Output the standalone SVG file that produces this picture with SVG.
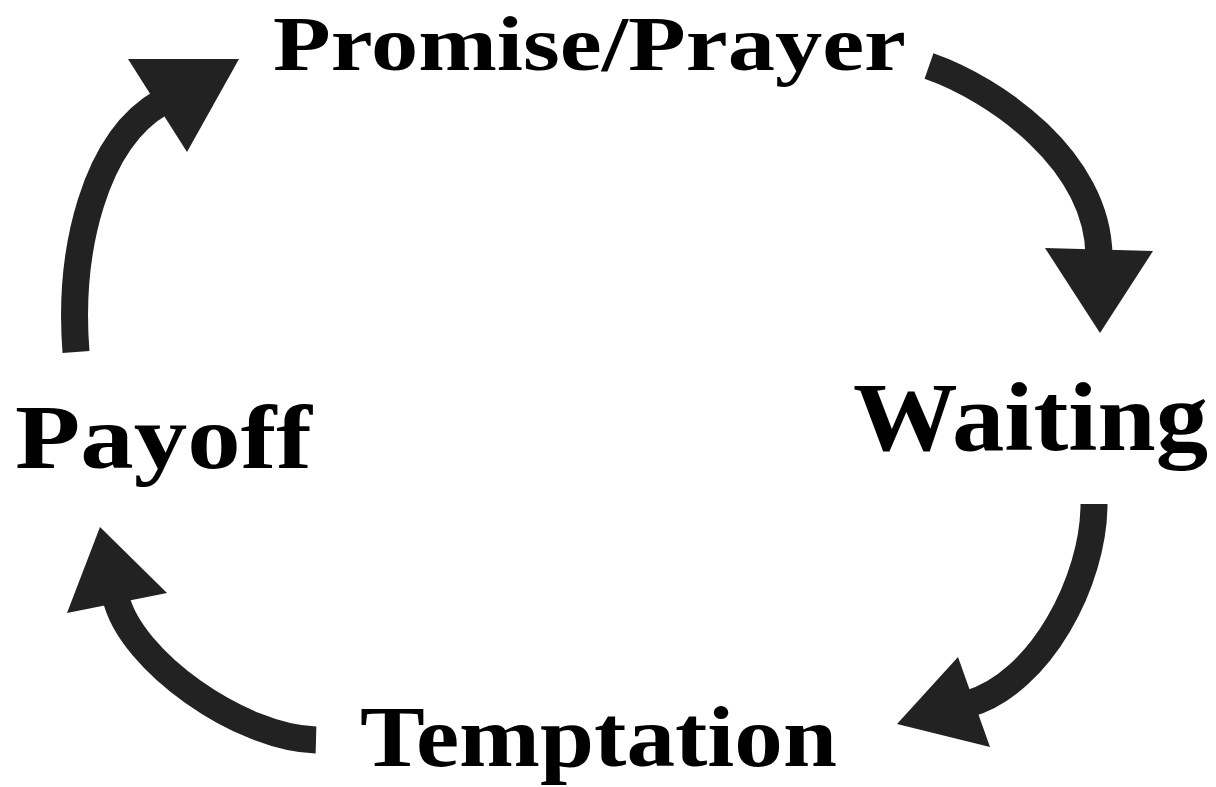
<svg xmlns="http://www.w3.org/2000/svg" width="1216" height="787" viewBox="0 0 1216 787">
<style>
.lbl{font-family:"Liberation Serif","DejaVu Serif",serif;font-weight:bold;fill:#000;}
.shaft{fill:none;stroke:#222;stroke-width:27;stroke-linecap:butt;}
.head{fill:#222;}
</style>
<rect width="1216" height="787" fill="#fff"/>
<g id="connectors">
<path class="shaft" d="M76,352 C68,250 95,140 162,102"/>
<polygon class="head" points="128,59 239,59 187,152"/>
<path class="shaft" d="M929,66 C995,89 1098,160 1099,256"/>
<polygon class="head" points="1045,248 1153,251 1100,333"/>
<path class="shaft" d="M1094,504 C1094,580 1041,683 968,704"/>
<polygon class="head" points="958,657 897,724 990,747"/>
<path class="shaft" d="M316,740 C240,738 131,661 116,598"/>
<polygon class="head" points="100,527 67,613 167,593"/>
</g>
<g id="node-promise"><text class="lbl" x="273" y="70" font-size="78" textLength="633" lengthAdjust="spacingAndGlyphs">Promise/Prayer</text></g>
<g id="node-waiting"><text class="lbl" x="853" y="450" font-size="98" textLength="355" lengthAdjust="spacingAndGlyphs">Waiting</text></g>
<g id="node-temptation"><text class="lbl" x="360" y="766" font-size="86" textLength="477" lengthAdjust="spacingAndGlyphs">Temptation</text></g>
<g id="node-payoff"><text class="lbl" x="15" y="468" font-size="92" textLength="297" lengthAdjust="spacingAndGlyphs">Payoff</text></g>
</svg>
